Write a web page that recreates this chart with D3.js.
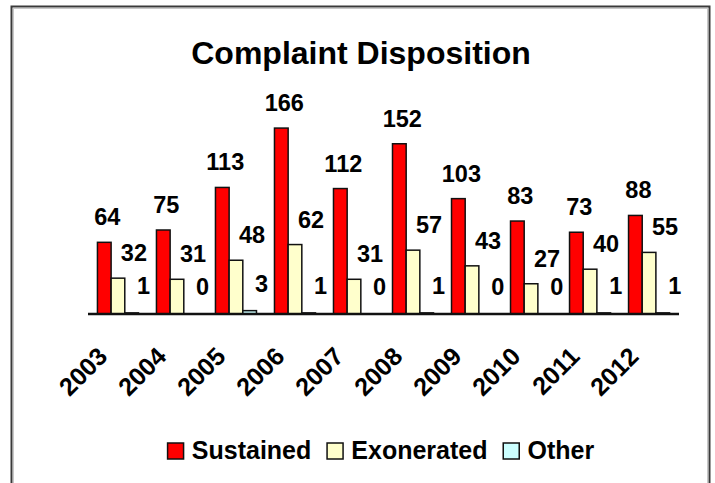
<!DOCTYPE html>
<html>
<head>
<meta charset="utf-8">
<script src="https://cdn.jsdelivr.net/npm/d3@7"></script>
<style>
  html, body { margin: 0; padding: 0; background: #ffffff; }
  svg { display: block; font-family: Arial, "Liberation Sans", sans-serif; font-weight: bold; }
</style>
</head>
<body>
<svg id="chart" width="715" height="483"></svg>
<script>
// Complaint disposition counts per year
const years = ["2003", "2004", "2005", "2006", "2007", "2008", "2009", "2010", "2011", "2012"];
const seriesNames = ["Sustained", "Exonerated", "Other"];
const sustained = [64, 75, 113, 166, 112, 152, 103, 83, 73, 88];
const exonerated = [32, 31, 48, 62, 31, 57, 43, 27, 40, 55];
const other = [1, 0, 3, 1, 0, 1, 0, 0, 1, 1];

const seriesValues = [sustained, exonerated, other];
const colors = ["#ff0000", "#ffffcc", "#ccffff"];
// label nudges (right, above bar top) for each series
const labelDx = [3, 16, 12];
const labelDy = [17, 17, 19];

const svg = d3.select("#chart");

// outer frame
svg.append("rect")
  .attr("x", 11.5).attr("y", 6.5)
  .attr("width", 698).attr("height", 500)
  .attr("fill", "#ffffff")
  .attr("stroke", "#3a3a3a").attr("stroke-width", 2);
svg.append("rect")
  .attr("x", 13.5).attr("y", 8.5)
  .attr("width", 694).attr("height", 500)
  .attr("fill", "none")
  .attr("stroke", "#c8c8c8").attr("stroke-width", 1);

// title
svg.append("text")
  .attr("x", 361).attr("y", 64)
  .attr("text-anchor", "middle")
  .attr("font-size", 32)
  .attr("fill", "#000")
  .text("Complaint Disposition");

const baseY = 314;
const x0 = d3.scaleBand()
  .domain(years)
  .range([88, 679])
  .paddingInner(0.305)
  .paddingOuter(0.16);
const x1 = d3.scaleBand()
  .domain(seriesNames)
  .range([0, x0.bandwidth()])
  .padding(0);
const y = d3.scaleLinear()
  .domain([0, 200])
  .range([baseY, baseY - 224]);

const rows = years.map((yr, i) => ({
  year: yr,
  values: seriesNames.map((s, k) => ({ series: s, k, value: seriesValues[k][i] }))
}));

const groups = svg.append("g").selectAll("g")
  .data(rows)
  .join("g")
  .attr("transform", d => `translate(${x0(d.year)},0)`);

groups.selectAll("rect")
  .data(d => d.values)
  .join("rect")
  .attr("x", d => x1(d.series))
  .attr("y", d => y(d.value))
  .attr("width", x1.bandwidth())
  .attr("height", d => baseY - y(d.value))
  .attr("fill", d => colors[d.k])
  .attr("stroke", "#111")
  .attr("stroke-width", 1.5);

groups.selectAll("text")
  .data(d => d.values)
  .join("text")
  .attr("x", d => x1(d.series) + x1.bandwidth() / 2 + labelDx[d.k])
  .attr("y", d => y(d.value) - labelDy[d.k])
  .attr("text-anchor", "middle")
  .attr("font-size", 23.5)
  .attr("fill", "#000")
  .text(d => d.value);

// category axis
const xAxis = d3.axisBottom(x0).tickSize(0).tickSizeOuter(0);
const axisG = svg.append("g")
  .attr("transform", `translate(0,${baseY})`)
  .call(xAxis);
axisG.select(".domain")
  .attr("stroke", "#111")
  .attr("stroke-width", 2.5)
  .attr("d", `M88,0H679`);
axisG.selectAll(".tick text")
  .attr("font-family", "Arial, 'Liberation Sans', sans-serif")
  .attr("font-weight", "bold")
  .attr("font-size", 25)
  .attr("fill", "#000")
  .attr("text-anchor", "end")
  .attr("dy", 0)
  .attr("y", 0)
  .attr("x", 0)
  .attr("transform", "translate(-9,44) rotate(-45)");

// legend
const legend = svg.append("g").attr("transform", "translate(0,459)");
const items = legend.selectAll("g")
  .data(seriesNames)
  .join("g");
items.append("rect")
  .attr("x", 0.75).attr("y", -16)
  .attr("width", 16).attr("height", 16)
  .attr("fill", (d, i) => colors[i])
  .attr("stroke", "#111")
  .attr("stroke-width", 1.5);
items.append("text")
  .attr("x", 25).attr("y", 0)
  .attr("font-size", 25)
  .attr("fill", "#000")
  .text(d => d);

const gap = 15;
const widths = [];
items.each(function () {
  widths.push(25 + d3.select(this).select("text").node().getComputedTextLength());
});
const total = d3.sum(widths) + gap * (widths.length - 1);
let cx = 380.5 - total / 2;
items.attr("transform", (d, i) => {
  const t = `translate(${cx},0)`;
  cx += widths[i] + gap;
  return t;
});
</script>
</body>
</html>
